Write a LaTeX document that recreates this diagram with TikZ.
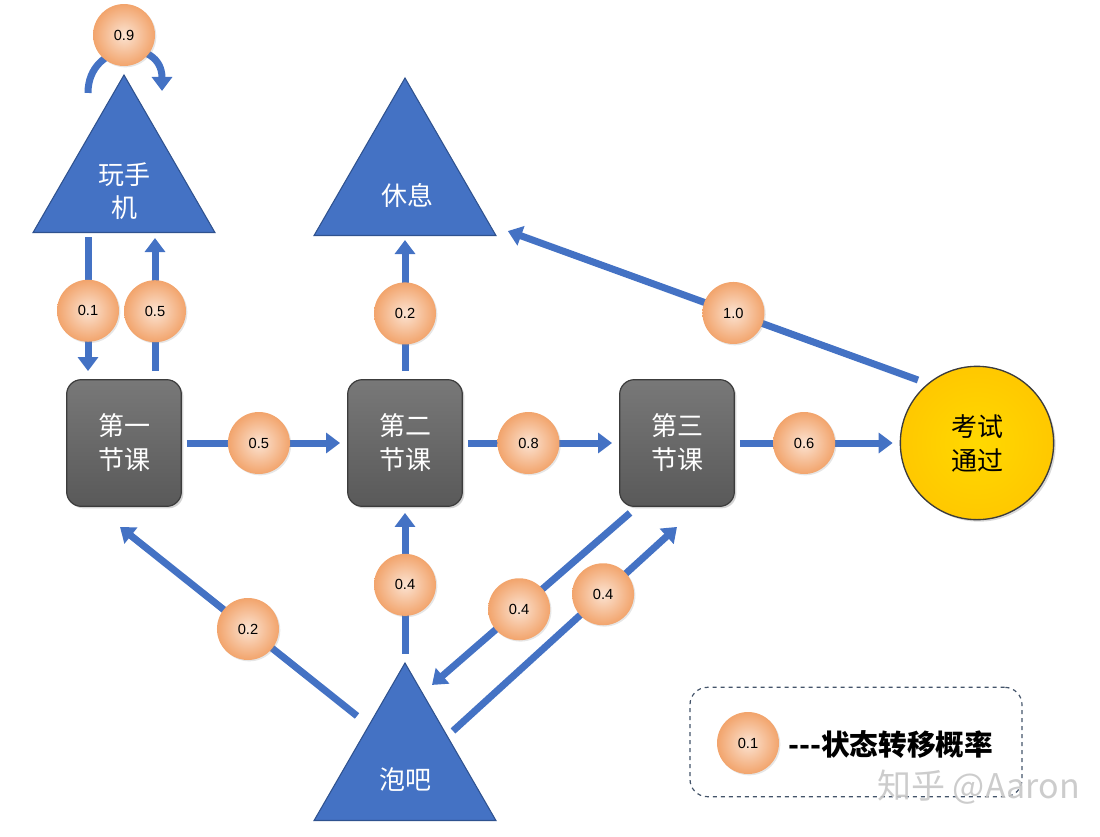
\documentclass[tikz,border=0pt]{standalone}
\usepackage{fontspec}
\setmainfont{Liberation Sans}
\newfontfamily\cjk{Noto Sans CJK SC}
\usetikzlibrary{shapes.geometric,arrows.meta,calc,shadows}
\definecolor{triblue}{HTML}{4472C4}
\definecolor{tribord}{HTML}{2F528F}
\definecolor{lineblue}{HTML}{4472C4}
\definecolor{boxgray}{HTML}{696969}
\definecolor{boxbord}{HTML}{3C3C3C}
\definecolor{peachin}{HTML}{FBE3D2}
\definecolor{peachout}{HTML}{F2A46C}
\definecolor{examyel}{HTML}{FFC800}
\definecolor{legbord}{HTML}{44546A}
\begin{document}
\begin{tikzpicture}[x=0.75pt,y=-0.75pt,
  tri/.style={regular polygon, regular polygon sides=3, minimum size=157.5pt, inner sep=0pt,
    fill=triblue, draw=tribord, line width=0.8pt},
  tritext/.style={text=white, font=\cjk\fontsize{19.5}{24.5}\selectfont, align=center, inner sep=0pt},
  lesson/.style={rectangle, rounded corners=11pt, minimum width=86pt, minimum height=95pt,
    top color=boxgray!90!white, bottom color=boxgray!85!black, draw=boxbord, line width=0.9pt,
    text=white, font=\cjk\fontsize{19.5}{25.5}\selectfont, align=center,
    drop shadow={opacity=0.35, shadow xshift=1.5pt, shadow yshift=-1.5pt}},
  prob/.style={circle, minimum size=46.5pt, inner sep=0pt, inner color=peachin, outer color=peachout,
    font=\fontsize{11}{12}\selectfont, text=black,
    drop shadow={opacity=0.2, shadow xshift=1pt, shadow yshift=-1pt}},
  arr/.style={draw=lineblue, line width=5.25pt, -{Triangle[width=15pt,length=10.5pt]}}
]
\useasboundingbox (0,0) rectangle (1100,836);

% states
\node[tri] (phone) at (124,180) {};
\node[tritext] (phonet) at (124,191) {玩手\\机};
\node[tri] (rest) at (405,183) {};
\node[tritext] (restt) at (407,195) {休息};
\node[tri] (bar) at (405,768) {};
\node[tritext] (bart) at (405,780) {泡吧};

\node[lesson] (c1) at (124,443) {第一\\节课};
\node[lesson] (c2) at (405,443) {第二\\节课};
\node[lesson] (c3) at (677,443) {第三\\节课};

\node[circle, minimum size=115pt, inner sep=0pt, inner color=examyel!70!yellow, outer color=examyel,
  draw=boxbord, line width=1pt, font=\cjk\fontsize{19.5}{25.5}\selectfont, align=center,
  drop shadow={opacity=0.3, shadow xshift=1.5pt, shadow yshift=-1.5pt}] (exam) at (977,443) {考试\\通过};

% self loop on phone
\draw[arr] ($(phone.corner 1)+(-36,19)$) .. controls +(0,-52) and +(0,-54) .. ($(phone.corner 1)+(38,17)$);
\node[prob] (l0) at (124,35) {0.9};

% transitions
\draw[arr] ($(phone.south)+(-36,4)$) -- ($(c1.north)+(-36,-8)$) node[prob,pos=0.55] (l1) {0.1};
\draw[arr] ($(c1.north)+(31,-8)$) -- ($(phone.south)+(31,5)$) node[prob,pos=0.45] (l2) {0.5};
\draw[arr] ($(c1.east)+(5,0)$) -- ($(c2.west)+(-7,0)$) node[prob,pos=0.47] (l3) {0.5};
\draw[arr] ($(c2.east)+(5,0)$) -- ($(c3.west)+(-7,0)$) node[prob,pos=0.42] (l4) {0.8};
\draw[arr] ($(c3.east)+(5,0)$) -- ($(exam.west)+(-7,0)$) node[prob,pos=0.42] (l5) {0.6};
\draw[arr] ($(c2.north)+(0,-8)$) -- ($(rest.south)+(0,4)$) node[prob,pos=0.44] (l6) {0.2};
\draw[arr] ($(exam.center)+(-59,-63)$) -- ($(rest.corner 3)+(11,-5)$) node[prob,pos=0.45] (l7) {1.0};
\draw[arr] ($(bar.corner 1)+(-48,54)$) -- ($(c1.south)+(-4,20)$) node[prob,pos=0.46] (l8) {0.2};
\draw[arr] ($(bar.corner 1)+(0,-8)$) -- ($(c2.south)+(0,6)$) node[prob,pos=0.49] (l9) {0.4};
\draw[arr] ($(c3.south)+(-47,6)$) -- ($(bar.corner 1)+(27,23)$) node[prob,pos=0.56] (l10) {0.4};
\draw[arr] ($(bar.corner 1)+(48,69)$) -- ($(c3.south)+(0,20)$) node[prob,pos=0.67] (l11) {0.4};

% legend
\node[draw=legbord, dashed, line width=0.9pt, rounded corners=13pt, minimum width=249pt, minimum height=82pt] (legend) at (856,742) {};
\node[prob] (lg) at (748,743) {0.1};
\node[font=\cjk\bfseries\fontsize{21.5}{24}\selectfont, anchor=west, inner sep=0pt] (legt) at (788,745) {-{}-{}-状态转移概率};

% watermark
\node[font=\cjk\fontsize{25.5}{30}\selectfont, text=black!22, anchor=west, inner sep=0pt, opacity=0.9] (wm) at (877,787) {知乎 @Aaron};
\end{tikzpicture}
\end{document}
